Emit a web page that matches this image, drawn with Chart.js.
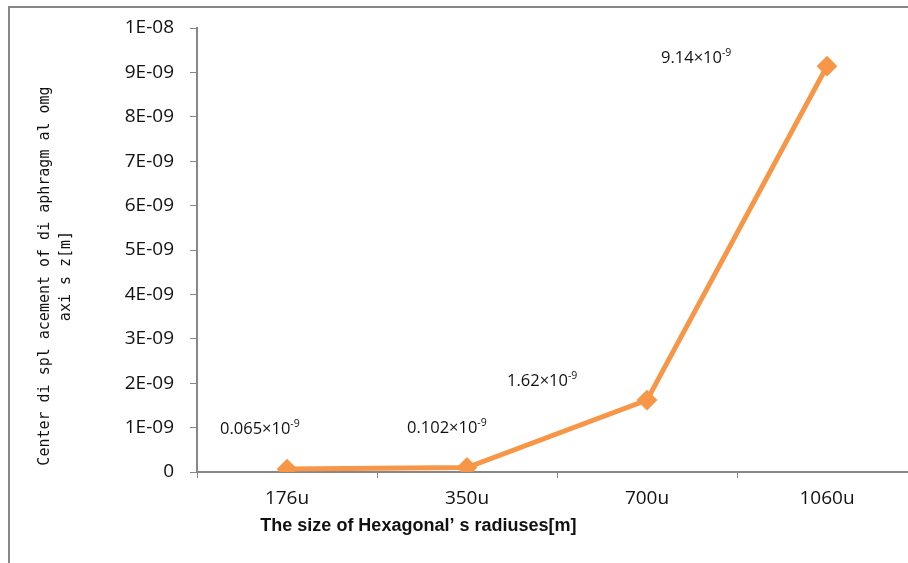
<!DOCTYPE html>
<html lang="en">

<head>
  <meta charset="UTF-8">
  <title>Center displacement vs hexagon radius</title>
  <script src="https://cdn.jsdelivr.net/npm/chart.js"></script>
  <style>
    html, body { margin: 0; padding: 0; background: #fff; overflow: hidden; }
    .frame {
      position: absolute; left: 8px; top: 6px; width: 1000px; height: 700px;
      border-top: 2px solid #878787; border-left: 2px solid #878787;
      pointer-events: none;
    }
    .chart-box { position: absolute; left: 0; top: 0; width: 930px; height: 563px; }
  </style>
</head>

<body>
  <div class="chart-box">
    <canvas id="dispChart"></canvas>
  </div>
  <div class="frame"></div>

  <script>
    // data
    const categories = ["176u", "350u", "700u", "1060u"];
    const displacement = [0.065e-9, 0.102e-9, 1.62e-9, 9.14e-9];
    const yTickLabels = ["0", "1E-09", "2E-09", "3E-09", "4E-09", "5E-09", "6E-09", "7E-09", "8E-09", "9E-09", "1E-08"];

    // where each value label sits relative to its point (px)
    const labelOffsets = [[-67, -35], [-60, -34], [-140, -14], [-166, -3]];

    const xTitle = "The size of Hexagonal\u2019 s radiuses[m]";
    const yTitle = ["Center di spl acement of di aphragm al omg", "axi s z[m]"];

    const orange = "#F79646";
    const axisGray = "#878787";
    const textColor = "#111111";

    // value labels like 0.065×10^-9 plus the two axis titles
    const annotatePlugin = {
      id: "annotate",
      afterDatasetsDraw(chart) {
        const ctx = chart.ctx;
        const meta = chart.getDatasetMeta(0);
        ctx.save();
        ctx.fillStyle = textColor;
        ctx.textAlign = "left";
        ctx.textBaseline = "alphabetic";
        meta.data.forEach((pt, i) => {
          const mant = parseFloat((displacement[i] * 1e9).toPrecision(6)).toString();
          const x = pt.x + labelOffsets[i][0];
          const y = pt.y + labelOffsets[i][1];
          ctx.font = "16.5px 'Open Sans'";
          const main = mant + "\u00d710";
          ctx.fillText(main, x, y);
          const w = ctx.measureText(main).width;
          ctx.font = "10.5px 'Open Sans'";
          ctx.fillText("-9", x + w, y - 7);
        });

        // x axis title
        const xs = chart.scales.x;
        ctx.font = "bold 18px 'Liberation Sans'";
        ctx.textAlign = "center";
        ctx.fillText(xTitle, xs.getPixelForValue(0.73), 531);

        // y axis title (rotated, two lines)
        const area = chart.chartArea;
        ctx.font = "15px 'DejaVu Sans Mono'";
        ctx.translate(area.left - 142, 276);
        ctx.rotate(-Math.PI / 2);
        ctx.textBaseline = "middle";
        ctx.fillText(yTitle[0], 0, -10);
        ctx.fillText(yTitle[1], 0, 11);
        ctx.restore();
      }
    };

    new Chart(document.getElementById("dispChart").getContext("2d"), {
      type: "line",
      data: {
        labels: categories,
        datasets: [{
          data: displacement,
          borderColor: orange,
          backgroundColor: orange,
          borderWidth: 5,
          pointStyle: "rectRot",
          pointRadius: 9,
          pointBorderWidth: 2,
          pointBackgroundColor: orange,
          pointBorderColor: orange,
          tension: 0,
        }],
      },
      options: {
        responsive: true,
        maintainAspectRatio: false,
        animation: false,
        layout: { padding: { top: 28, right: 13, bottom: 0, left: 0 } },
        plugins: {
          legend: { display: false },
          tooltip: { enabled: false },
        },
        scales: {
          x: {
            type: "category",
            offset: true,
            afterFit(scale) { scale.height = 91; },
            grid: {
              drawOnChartArea: false,
              drawTicks: true,
              tickLength: 6,
              tickColor: axisGray,
              offset: true,
            },
            border: { color: axisGray, width: 2 },
            ticks: {
              color: textColor,
              font: { family: "'Open Sans'", size: 19 },
              padding: 9,
              maxRotation: 0,
            },
          },
          y: {
            min: 0,
            max: 1e-8,
            afterFit(scale) { scale.width = 197; },
            grid: {
              drawOnChartArea: false,
              drawTicks: true,
              tickLength: 7,
              tickColor: axisGray,
            },
            border: { color: axisGray, width: 2 },
            ticks: {
              stepSize: 1e-9,
              color: textColor,
              font: { family: "'Open Sans'", size: 19 },
              padding: 16,
              callback: (value, index) => yTickLabels[index],
            },
          },
        },
      },
      plugins: [annotatePlugin],
    });
  </script>
</body>

</html>
